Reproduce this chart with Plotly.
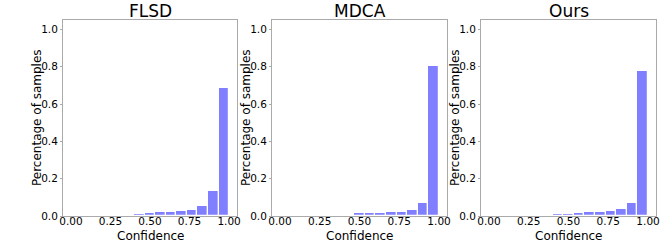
import plotly.graph_objects as go

# ---- data ----
bin_centers = [(i + 0.5) / 15 for i in range(15)]
titles = ["FLSD", "MDCA", "Ours"]
flsd = [0, 0, 0, 0, 0.001, 0.005, 0.011, 0.018, 0.020, 0.023, 0.025, 0.032, 0.054, 0.136, 0.684]
mdca = [0, 0, 0, 0, 0.001, 0.003, 0.006, 0.014, 0.016, 0.016, 0.019, 0.022, 0.032, 0.071, 0.803]
ours = [0, 0, 0, 0, 0.001, 0.005, 0.009, 0.013, 0.018, 0.020, 0.021, 0.025, 0.040, 0.069, 0.778]
x_tick_vals = [0.0, 0.25, 0.5, 0.75, 1.0]
x_tick_text = ["0.00", "0.25", "0.50", "0.75", "1.00"]
y_tick_vals = [0.0, 0.2, 0.4, 0.6, 0.8, 1.0]
y_tick_text = ["0.0", "0.2", "0.4", "0.6", "0.8", "1.0"]
series = [flsd, mdca, ours]

W, H = 664, 245
x_px = [(63, 237), (272, 447), (481, 656)]
y_top, y_bot = 20, 216
FONT = "DejaVu Sans"

fig = go.Figure()
layout = dict(
    width=W, height=H, margin=dict(l=0, r=0, t=0, b=0, autoexpand=False),
    paper_bgcolor="white", plot_bgcolor="white", showlegend=False,
    font=dict(family=FONT, color="black"), bargap=0,
)
annotations = []
for i, (vals, title) in enumerate(zip(series, titles)):
    n = "" if i == 0 else str(i + 1)
    fig.add_trace(go.Bar(
        x=bin_centers, y=vals, width=1 / 15,
        marker=dict(color="rgba(0,0,255,0.5)", line=dict(color="white", width=1.2)),
        xaxis="x" + n, yaxis="y" + n,
    ))
    x0, x1 = x_px[i]
    axcommon = dict(showline=True, mirror=True, linecolor="#aaaaaa", linewidth=1,
                    showgrid=False, zeroline=False, ticks="outside", ticklen=2,
                    tickcolor="#aaaaaa", tickfont=dict(size=10.5, family=FONT, color="black"))
    layout["xaxis" + n] = dict(domain=[x0 / W, x1 / W], range=[-0.05, 1.05],
                               tickvals=x_tick_vals, ticktext=x_tick_text,
                               ticklabelstandoff=-7,
                               anchor="y" + n, **axcommon)
    layout["yaxis" + n] = dict(domain=[(H - y_bot) / H, (H - y_top) / H], range=[0, 1.05],
                               tickvals=y_tick_vals, ticktext=y_tick_text,
                               anchor="x" + n, **axcommon)
    cx = (x0 + x1) / 2
    annotations.append(dict(text=title, x=cx / W, y=1 - 11 / H, xref="paper", yref="paper",
                            showarrow=False, xanchor="center", yanchor="middle",
                            font=dict(size=17, family=FONT, color="black")))
    annotations.append(dict(text="Confidence", x=cx / W, y=1 - 236 / H, xref="paper", yref="paper",
                            showarrow=False, xanchor="center", yanchor="middle",
                            font=dict(size=12, family=FONT, color="black")))
    annotations.append(dict(text="Percentage of samples", x=(x0 - 26) / W, y=1 - 118 / H,
                            xref="paper", yref="paper", textangle=-90,
                            showarrow=False, xanchor="center", yanchor="middle",
                            font=dict(size=12, family=FONT, color="black")))
layout["annotations"] = annotations
fig.update_layout(**layout)
fig.write_html("out.html", config={"displayModeBar": False},
               post_script="document.body.style.margin='0';document.body.style.padding='0';")
